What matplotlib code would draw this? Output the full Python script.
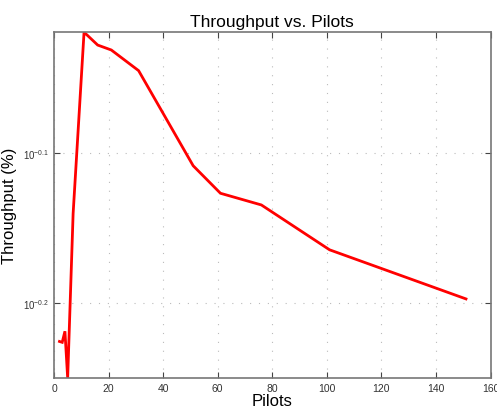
import matplotlib
matplotlib.use("Agg")
import matplotlib.pyplot as plt
from matplotlib.ticker import FixedLocator, NullLocator

pilots = [2, 3, 4, 5, 7, 11, 12, 16, 21, 31, 51, 61, 76, 101, 151]
throughput = [0.5944, 0.5936, 0.6038, 0.5619, 0.7236, 0.9561, 0.9528, 0.9378,
              0.9307, 0.9016, 0.7789, 0.7466, 0.7333, 0.6844, 0.6346]
xticks = [0, 20, 40, 60, 80, 100, 120, 140, 160]
yticks = [10 ** -0.2, 10 ** -0.1]
ytick_labels = [r"$10^{-0.2}$", r"$10^{-0.1}$"]

plt.rcParams['font.family'] = ['Liberation Sans', 'DejaVu Sans']
plt.rcParams['mathtext.fontset'] = 'custom'
plt.rcParams['mathtext.rm'] = 'Liberation Sans'
plt.rcParams['mathtext.it'] = 'Liberation Sans'

fig = plt.figure(figsize=(4.97, 4.10), dpi=100)
ax = fig.add_axes([0.1087, 0.0756, 0.8783, 0.8427])

ax.plot(pilots, throughput, color='#ff0000', linewidth=2.0, solid_joinstyle='miter')
ax.set_yscale('log')
ax.set_xlim(0, 160)
ax.set_ylim(min(throughput), max(throughput))

ax.xaxis.set_major_locator(FixedLocator(xticks))
ax.set_xticklabels([str(t) for t in xticks])
ax.yaxis.set_major_locator(FixedLocator(yticks))
ax.yaxis.set_minor_locator(NullLocator())
ax.set_yticklabels(ytick_labels)

ax.tick_params(direction='in', top=True, right=True, length=4, width=0.8,
               colors='#444444', labelsize=7.5, labelcolor='#333333')
ax.tick_params(axis='y', labelsize=7)
for s in ax.spines.values():
    s.set_color('#777777')
    s.set_linewidth(1.2)

ax.grid(True, which='major', linestyle=(0, (1, 7)), color='#bbbbbb', linewidth=0.8)

ax.set_title('Throughput vs. Pilots', fontsize=12.5, pad=5)
ax.set_xlabel('Pilots', fontsize=12, labelpad=0)
ax.set_ylabel('Throughput (%)', fontsize=12, labelpad=4)

fig.savefig('out.png', dpi=100)
